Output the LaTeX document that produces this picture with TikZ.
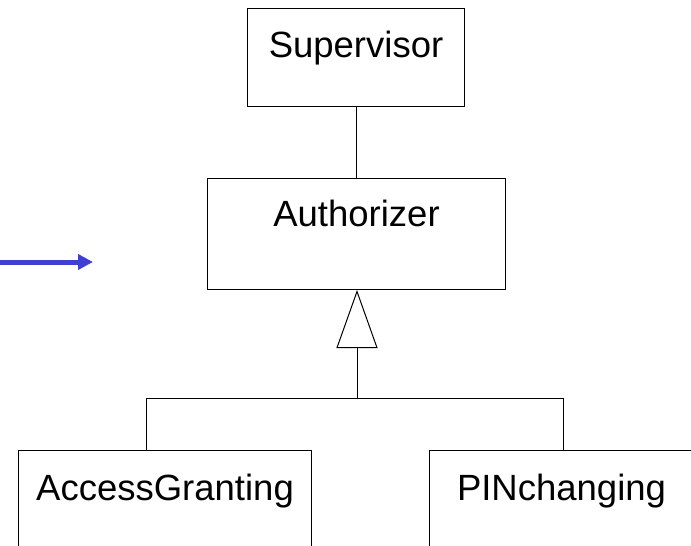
\documentclass[tikz,border=0pt]{standalone}
\usepackage{fontspec}
\setmainfont{Liberation Sans}
\usetikzlibrary{arrows.meta}

\definecolor{arrowblue}{RGB}{64,64,208}

\tikzset{
  classbox/.style={draw, rectangle, line width=0.5pt, inner sep=0pt, anchor=north west,
    font=\fontsize{18.25}{22}\selectfont},
  link/.style={line width=0.5pt}
}

\begin{document}
\begin{tikzpicture}
        [x=0.5pt,y=-0.5pt]
        \useasboundingbox (0,0) rectangle (691,546);

        \node[classbox, minimum width=108.5pt, text height=24.5pt, text depth=24.5pt] (sup) at (247,8) {Supervisor};
        \node[classbox, minimum width=149pt, text height=24pt, text depth=31.5pt] (auth) at (207,178) {Authorizer};
        \node[classbox, minimum width=146.5pt, text height=25pt, text depth=40pt] (ag) at (18,450) {AccessGranting};
        \node[classbox, minimum width=132pt, text height=25pt, text depth=40pt] (pin) at (429,450) {PINchanging};

        \coordinate (fork) at (357,398);
        \coordinate (agjoin) at (146,398);
        \coordinate (pinjoin) at (563,398);
        \coordinate (arrowtail) at (0,262);
        \coordinate (arrowtip) at (93,262);

        \draw[link] (sup.south) -- (sup.south |- auth.north);
        \draw[link,-{Triangle[open,length=29pt,width=20.5pt]}] (fork) -- (fork |- auth.south);
        \draw[link] (agjoin |- ag.north) -- (agjoin) -- (pinjoin) -- (pinjoin |- pin.north);

        \draw[arrowblue, line width=2.5pt, -{Triangle[length=7.5pt,width=7.5pt]}] (arrowtail) -- (arrowtip);
      \end{tikzpicture}
\end{document}
